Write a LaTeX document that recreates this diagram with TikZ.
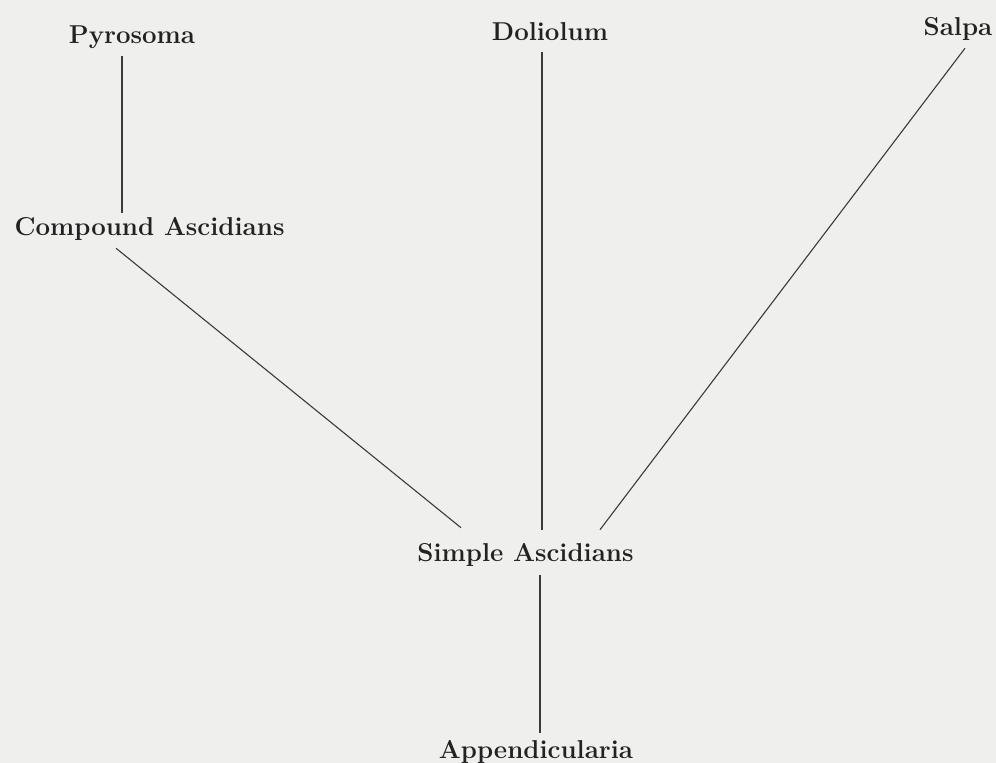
\documentclass[tikz,border=0pt]{standalone}
\usetikzlibrary{calc}
\definecolor{paper}{HTML}{EFEFEE}
\definecolor{ink}{HTML}{222222}
\definecolor{rule}{HTML}{3A3A3A}
\begin{document}
\begin{tikzpicture}[x=1pt,y=-1pt,
  lbl/.style={anchor=base,inner sep=0pt,text=ink,font=\fontsize{25.85}{30}\selectfont\bfseries},
  branch/.style={draw=rule,line width=1.1pt}]
\fill[paper] (0,0) rectangle (996,763);
\useasboundingbox (0,0) rectangle (996,763);
\node[lbl] (pyro) at (132,43) {Pyrosoma};
\node[lbl] (dol) at (550,40) {Doliolum};
\node[lbl] (salpa) at (958,35) {Salpa};
\node[lbl] (comp) at (149.5,235) {Compound Ascidians};
\node[lbl] (simple) at (525.5,561) {Simple Ascidians};
\node[lbl] (app) at (536,758) {Appendicularia};
\draw[branch] ($(pyro.south)+(-10,8)$) -- ($(comp.north)+(-27.5,-4)$);
\draw[branch] ($(comp.south)+(-33.5,8)$) -- ($(simple.north)+(-64.5,-15)$);
\draw[branch] ($(dol.south)+(-8,12)$) -- ($(simple.north)+(16.5,-13)$);
\draw[branch] ($(salpa.south)+(7,8)$) -- ($(simple.north)+(74.5,-13)$);
\draw[branch] ($(simple.south)+(14.5,9)$) -- ($(app.north)+(4,-7)$);
\end{tikzpicture}
\end{document}
